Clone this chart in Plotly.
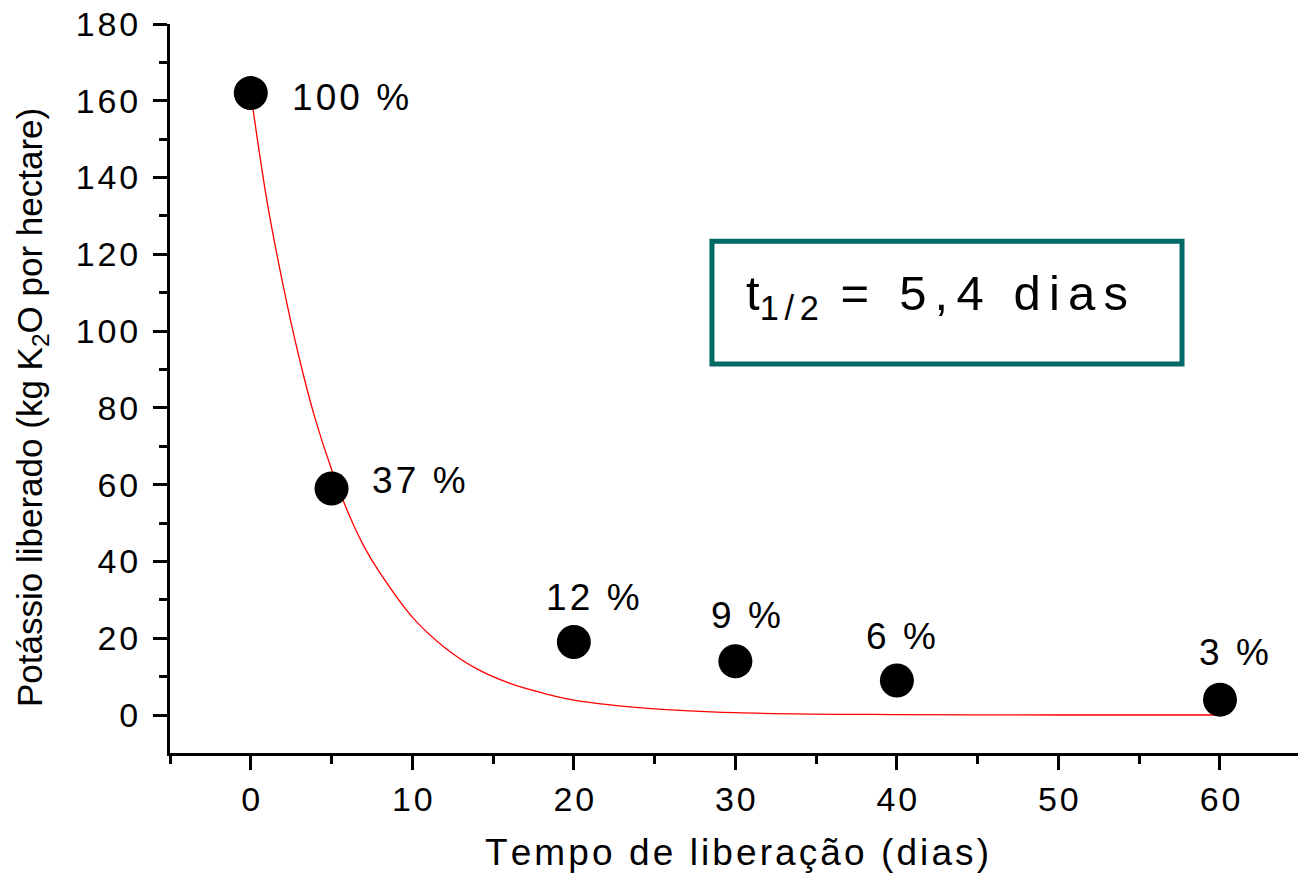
import plotly.graph_objects as go

# Measured data points (days, kg K2O/ha)
days = [0, 5, 20, 30, 40, 60]
potassium = [162, 59, 19, 14, 9, 4]
pct_labels = ["100 %", "37 %", "12 %", "9 %", "6 %", "3 %"]

# Fitted decay curve
curve_t = [0, 1, 2, 3, 4, 5, 6, 7, 8, 10, 12, 14, 16, 18, 20, 25, 30, 40, 50, 60]
curve_y = [162, 134, 112, 93, 77, 64, 53, 44, 37, 25.5, 17.6, 12, 8.3, 5.8, 3.9, 1.6, 0.6, 0.1, 0, 0]

x_ticks = [0, 10, 20, 30, 40, 50, 60]
y_ticks = [0, 20, 40, 60, 80, 100, 120, 140, 160, 180]

title_x = "Tempo de liberação (dias)"
title_y = "Potássio liberado (kg K<sub>2</sub>O por hectare)"
box_text = ("t", "1/2", " = 5,4 dias")

# label offsets in pixels (dx, dy up)
label_offsets = [(100, -4), (87, 8), (19, 45), (11, 46), (4, 44), (14, 47)]

SP = "\u200a"
def spaced(s, n=1):
    return (SP * n).join(list(s))

FONT = "Liberation Sans, Arial, sans-serif"

fig = go.Figure()
fig.add_trace(go.Scatter(x=curve_t, y=curve_y, mode="lines",
                         line=dict(color="#ff0000", width=1.3, shape="spline"),
                         hoverinfo="skip", showlegend=False))
fig.add_trace(go.Scatter(x=days, y=potassium, mode="markers",
                         marker=dict(color="black", size=34, line=dict(width=0)),
                         showlegend=False))

for xv, yv, lab, (dx, dy) in zip(days, potassium, pct_labels, label_offsets):
    fig.add_annotation(x=xv, y=yv, xref="x", yref="y", text=spaced(lab),
                       showarrow=False, xshift=dx, yshift=dy,
                       font=dict(family=FONT, size=37, color="black"))

# t1/2 box
fig.add_shape(type="rect", xref="x", yref="y", x0=28.55, x1=57.65, y0=91.4, y1=123.4,
              line=dict(color="#006a66", width=5), fillcolor="rgba(0,0,0,0)")
fig.add_annotation(x=43.1, y=107.4, xref="x", yref="y", showarrow=False,
                   xshift=-10, yshift=6,
                   text=box_text[0] + "<sub>" + spaced(box_text[1], 2) + "</sub>" + spaced(box_text[2], 2),
                   font=dict(family=FONT, size=49, color="black"))

fig.add_annotation(x=32, y=408, xref="paper", yref="paper", text=title_y, textangle=-90,
                   showarrow=False, font=dict(family=FONT, size=35, color="black"))
fig.add_annotation(x=737, y=853, xref="paper", yref="paper", text=spaced(title_x),
                   showarrow=False, font=dict(family=FONT, size=37, color="black"))

W, H = 1298, 873
L, R, T, B = 170, 0, 24, 120

# convert paper pixel annotations
for a in fig.layout.annotations:
    if a.xref == "paper":
        a.x = (a.x - L) / (W - L - R)
        a.y = 1 - (a.y - T) / (H - T - B)
        a.xanchor = "center"
        a.yanchor = "middle"

fig.update_layout(
    width=W, height=H,
    margin=dict(l=L, r=R, t=T, b=B, pad=0),
    plot_bgcolor="white", paper_bgcolor="white",
    font=dict(family=FONT, size=34, color="black"),
)
fig.update_xaxes(range=[-5, 64.83], showgrid=False, zeroline=False,
                 showline=True, linecolor="black", linewidth=3,
                 ticks="outside", ticklen=14, tickwidth=2.5, tickcolor="black",
                 tickvals=x_ticks, ticktext=[spaced(str(v)) for v in x_ticks],
                 tickfont=dict(family=FONT, size=34),
                 minor=dict(dtick=5, tick0=0, ticks="outside", ticklen=8, tickwidth=2.5, tickcolor="black"))
fig.update_yaxes(range=[-9.9, 180], showgrid=False, zeroline=False,
                 showline=True, linecolor="black", linewidth=3,
                 ticks="outside", ticklen=14, tickwidth=2.5, tickcolor="black",
                 tickvals=y_ticks, ticktext=[spaced(str(v)) for v in y_ticks],
                 tickfont=dict(family=FONT, size=34), ticklabelstandoff=8,
                 minor=dict(dtick=10, tick0=0, ticks="outside", ticklen=8, tickwidth=2.5, tickcolor="black"))

fig.write_html("out.html", config={"displayModeBar": False},
               post_script="document.body.style.margin='0';document.body.style.overflow='hidden';")
